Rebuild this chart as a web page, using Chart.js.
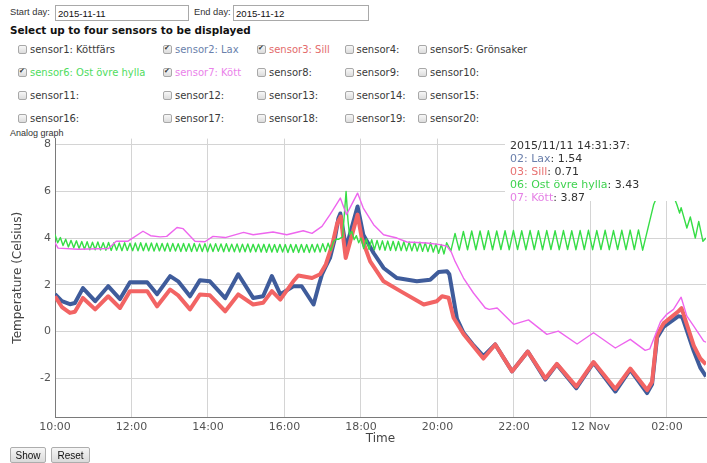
<!DOCTYPE html>
<html>
<head>
<meta charset="utf-8">
<script src="https://cdn.jsdelivr.net/npm/chart.js@4.4.1/dist/chart.umd.min.js"></script>
<style>
  body { margin: 0; width: 707px; height: 463px; overflow: hidden; position: relative; background: #fff;
         font-family: 'DejaVu Sans', Verdana, sans-serif; color: #222; }
  .abs { position: absolute; white-space: nowrap; }
  .small { font-family: 'Liberation Sans', Arial, sans-serif; font-size: 9.3px; color: #333; }
  input.day { position: absolute; height: 16px; box-sizing: border-box; border: 1px solid #a9a9a9; padding: 0 2px;
              font-family: 'Liberation Sans', Arial, sans-serif; font-size: 9.6px; color: #111; }
  .heading { font-weight: bold; font-size: 10.4px; color: #111; }
  .cb { position: absolute; display: flex; align-items: center; height: 12px; font-size: 10px; color: #3a3a3a; white-space: nowrap; }
  .cb input { appearance: none; -webkit-appearance: none; width: 9px; height: 9px; margin: 0 3px 0 0; box-sizing: border-box;
              border: 1px solid #a8a8a8; border-radius: 2px; background: linear-gradient(#f7f7f7, #dcdcdc); position: relative; }
  .cb input:checked::after { content: '\2714'; position: absolute; left: 0px; top: -2px; font-size: 7px; color: #333; }
  #wrap { position: absolute; left: 0; top: 128px; width: 707px; height: 320px; }
  #hover { position: absolute; left: 505px; top: 134px; width: 202px; height: 67px; background: #fff;
           font-size: 11px; line-height: 13px; color: #333; padding: 5px 0 0 5px; box-sizing: border-box; }
  button { position: absolute; top: 447px; height: 16px; padding: 0; border: 1px solid #adadad; border-radius: 2px;
           background: linear-gradient(#f6f6f6, #dadada); font-family: 'Liberation Sans', Arial, sans-serif; font-size: 10px; color: #111; }
</style>
</head>
<body>

<span class="abs small" style="left:10px;top:7px">Start day:</span>
<input class="day" style="left:55px;top:5px;width:134px" value="2015-11-11">
<span class="abs small" style="left:194px;top:7px">End day:</span>
<input class="day" style="left:233px;top:5px;width:136px" value="2015-11-12">
<div class="abs heading" style="left:10px;top:24px">Select up to four sensors to be displayed</div>

<div id="sensors"></div>

<span class="abs small" style="left:10px;top:128px;font-size:9px">Analog graph</span>

<div id="wrap"><canvas id="graph"></canvas></div>

<div id="hover">
  <div>2015/11/11 14:31:37:</div>
  <div><span style="color:#6a7fab">02: Lax</span>: 1.54</div>
  <div><span style="color:#e87272">03: Sill</span>: 0.71</div>
  <div><span style="color:#3fd24f">06: Ost övre hylla</span>: 3.43</div>
  <div><span style="color:#e581e5">07: Kött</span>: 3.87</div>
</div>

<button style="left:10px;width:36px">Show</button>
<button style="left:51px;width:39px">Reset</button>

<script>
// sensor checkboxes
const sensorNames = ['Köttfärs', 'Lax', 'Sill', '', 'Grönsaker', 'Ost övre hylla', 'Kött', '', '', '',
                     '', '', '', '', '', '', '', '', '', ''];
const sensorChecked = [2, 3, 6, 7];
const sensorColors = { 2: '#6a7fab', 3: '#e36b6b', 6: '#4fdc5e', 7: '#ea82ea' };
const colX = [18, 163, 257, 344.5, 418];
const rowY = [43, 66, 89, 112];

const box = document.getElementById('sensors');
sensorNames.forEach((name, i) => {
  const n = i + 1;
  const el = document.createElement('label');
  el.className = 'cb';
  el.style.left = colX[i % 5] + 'px';
  el.style.top = rowY[Math.floor(i / 5)] + 'px';
  const on = sensorChecked.includes(n);
  el.innerHTML = '<input type="checkbox"' + (on ? ' checked' : '') + '><span>sensor' + n + ': ' + name + '</span>';
  if (on) el.style.color = sensorColors[n];
  box.appendChild(el);
});

// 02: Lax
const laxHours = [10.00, 10.18, 10.39, 10.52, 10.73, 11.05, 11.39, 11.70, 11.96, 12.41, 12.67, 13.01, 13.22, 13.53,
  13.79, 14.05, 14.45, 14.79, 15.18, 15.44, 15.67, 15.89, 16.23, 16.45, 16.76, 16.90, 16.98, 17.06, 17.19, 17.32,
  17.41, 17.46, 17.61, 17.91, 18.06, 18.33, 18.59, 18.94, 19.46, 19.81, 20.03, 20.25, 20.31, 20.51, 20.68, 20.95,
  21.20, 21.51, 21.95, 22.36, 22.82, 23.12, 23.63, 24.08, 24.65, 25.04, 25.48, 25.61, 25.74, 25.91, 26.30, 26.40,
  26.70, 26.87, 27.02];
const laxTemps = [1.60, 1.30, 1.17, 1.22, 1.86, 1.30, 1.94, 1.39, 2.11, 2.11, 1.60, 2.37, 2.15, 1.51,
  2.20, 2.15, 1.43, 2.45, 1.44, 1.51, 2.37, 1.59, 1.94, 1.94, 1.16, 2.00, 2.44, 2.72, 3.15, 4.00,
  4.85, 5.05, 3.57, 5.35, 4.14, 3.36, 2.72, 2.29, 2.15, 2.22, 2.55, 2.58, 2.45, 0.55, -0.05, -0.60,
  -1.05, -0.55, -1.70, -0.85, -2.05, -1.40, -2.42, -1.33, -2.56, -1.63, -2.63, -2.25, -0.26, 0.20, 0.66, 0.62,
  -0.83, -1.54, -1.92];

// 03: Sill
const sillHours = [10.00, 10.18, 10.39, 10.52, 10.73, 11.05, 11.39, 11.70, 11.96, 12.41, 12.67, 13.01, 13.22, 13.53,
  13.79, 14.05, 14.45, 14.79, 15.18, 15.44, 15.67, 15.89, 16.23, 16.36, 16.72, 16.93, 17.08, 17.25, 17.38, 17.47,
  17.60, 17.91, 18.02, 18.24, 18.59, 19.03, 19.64, 19.98, 20.12, 20.29, 20.42, 20.68, 20.95, 21.20, 21.51, 21.95,
  22.36, 22.82, 23.12, 23.63, 24.08, 24.65, 25.04, 25.48, 25.61, 25.74, 25.91, 26.30, 26.38, 26.70, 26.87, 27.02];
const sillTemps = [1.51, 1.05, 0.80, 0.85, 1.44, 0.95, 1.51, 1.01, 1.73, 1.73, 1.08, 1.80, 1.55, 0.95,
  1.59, 1.55, 0.87, 1.59, 1.16, 1.23, 1.73, 1.37, 2.15, 2.40, 2.29, 2.45, 2.87, 3.72, 4.64, 4.92,
  3.15, 5.00, 4.00, 3.00, 2.15, 1.73, 1.16, 1.30, 1.51, 1.45, 0.59, -0.10, -0.65, -1.15, -0.55, -1.70,
  -0.85, -2.00, -1.38, -2.35, -1.30, -2.45, -1.58, -2.50, -2.15, -0.15, 0.35, 0.87, 1.00, -0.60, -1.15, -1.40];

// 06: Ost övre hylla (regular samples, then the spike, then the night cycle)
const ostDayStart = 10.00, ostDayStep = 0.07;
const ostDayTemps = [
  4.15, 3.80, 4.02, 3.68, 3.95, 3.62, 3.90, 3.58, 3.88, 3.55,
  3.85, 3.52, 3.84, 3.50, 3.82, 3.50, 3.83, 3.49, 3.80, 3.48,
  3.81, 3.47, 3.80, 3.48, 3.79, 3.46, 3.80, 3.47, 3.78, 3.46,
  3.79, 3.45, 3.80, 3.46, 3.78, 3.45, 3.79, 3.44, 3.78, 3.45,
  3.77, 3.44, 3.78, 3.43, 3.77, 3.44, 3.76, 3.42, 3.77, 3.43,
  3.76, 3.42, 3.77, 3.43, 3.75, 3.42, 3.76, 3.41, 3.75, 3.42,
  3.76, 3.43, 3.75, 3.41, 3.76, 3.42, 3.74, 3.41, 3.75, 3.40,
  3.74, 3.41, 3.75, 3.40, 3.73, 3.41, 3.74, 3.40, 3.73, 3.39,
  3.74, 3.40, 3.72, 3.39, 3.73, 3.40, 3.72, 3.38, 3.73, 3.39,
  3.72, 3.38, 3.73, 3.39, 3.72, 3.38, 3.73, 3.40, 3.74, 3.40,
  3.76, 3.42, 3.78, 3.46, 3.85, 3.95];
const ostSpikeHours = [17.42, 17.52, 17.61, 17.66, 17.70, 17.76, 17.82, 17.88, 17.94];
const ostSpikeTemps = [3.95, 4.05, 5.99, 4.75, 4.14, 4.29, 3.93, 4.10, 3.80];
const ostEveStart = 18.00, ostEveStep = 0.07;
const ostEveTemps = [
  4.00, 3.55, 3.96, 3.52, 3.93, 3.50, 3.90, 3.50, 3.88, 3.48,
  3.87, 3.47, 3.86, 3.46, 3.85, 3.46, 3.84, 3.45, 3.83, 3.45,
  3.82, 3.44, 3.82, 3.43, 3.80, 3.42, 3.80, 3.40, 3.75, 3.35,
  3.72, 3.32, 3.80];
const ostNightStart = 20.35, ostNightStep = 0.109;
const ostNightTemps = [
  3.45, 4.20, 3.48, 4.28, 3.50, 4.30, 3.50, 4.30, 3.51, 4.31,
  3.50, 4.30, 3.51, 4.31, 3.50, 4.32, 3.51, 4.31, 3.50, 4.32,
  3.51, 4.31, 3.50, 4.32, 3.51, 4.31, 3.50, 4.32, 3.51, 4.31,
  3.50, 4.32, 3.51, 4.33, 3.50, 4.32, 3.51, 4.33, 3.50, 4.32,
  3.51, 4.33, 3.50, 4.34, 3.51, 4.35, 3.48];
const ostTailHours = [25.50, 25.65, 25.85, 26.05, 26.26, 26.33, 26.37, 26.52, 26.61, 26.74, 26.83, 26.94, 27.02];
const ostTailTemps = [4.40, 5.42, 6.20, 6.30, 5.42, 5.07, 5.30, 4.43, 4.90, 4.00, 4.71, 3.86, 4.00];

// 07: Kött
const kottHours = [10.00, 10.08, 10.60, 11.40, 11.60, 11.90, 12.30, 12.50, 12.75, 12.92, 13.19, 13.35, 13.66, 13.92,
  14.13, 14.45, 14.93, 15.18, 15.70, 16.06, 16.49, 16.72, 16.98, 17.19, 17.46, 17.62, 17.91, 18.06, 18.33, 18.59,
  18.94, 19.20, 19.72, 20.07, 20.25, 20.36, 20.46, 20.59, 20.68, 20.94, 21.25, 21.35, 21.56, 21.99, 22.38, 22.86,
  23.16, 23.65, 24.08, 24.65, 25.04, 25.43, 25.55, 25.83, 26.00, 26.17, 26.37, 26.52, 26.70, 26.96, 27.02];
const kottTemps = [3.80, 3.57, 3.52, 3.55, 3.86, 3.86, 4.29, 4.10, 4.05, 4.07, 4.45, 4.40, 3.86, 3.84,
  4.07, 4.02, 4.24, 4.14, 4.26, 4.14, 4.31, 4.20, 4.50, 5.00, 5.71, 5.00, 5.92, 5.28, 4.57, 4.14,
  4.00, 3.83, 3.79, 3.72, 3.65, 3.40, 3.00, 2.58, 2.29, 1.65, 1.01, 0.95, 1.01, 0.31, 0.50, -0.12,
  0.02, -0.53, -0.05, -0.70, -0.33, -0.80, -0.74, 0.42, 0.75, 0.95, 1.47, 0.66, 0.23, -0.41, -0.45];

// x axis: hours counted from 2015-11-11 00:00
const xMin = 10, xMax = 27.02;
const yMin = -3.65, yMax = 8.25;

const pairs = (hours, temps) => hours.map((h, i) => ({ x: h, y: temps[i] }));
const regular = (start, step, temps) => temps.map((t, i) => ({ x: start + i * step, y: t }));

const ostData = [].concat(
  regular(ostDayStart, ostDayStep, ostDayTemps),
  pairs(ostSpikeHours, ostSpikeTemps),
  regular(ostEveStart, ostEveStep, ostEveTemps),
  regular(ostNightStart, ostNightStep, ostNightTemps),
  pairs(ostTailHours, ostTailTemps)
);

const tickFont = { family: "'DejaVu Sans', Verdana, sans-serif", size: 11 };
const titleFont = { family: "'DejaVu Sans', Verdana, sans-serif", size: 12 };

new Chart(document.getElementById('graph'), {
  type: 'line',
  data: {
    datasets: [
      { label: '07: Kött', data: pairs(kottHours, kottTemps), borderColor: '#ee66ee', borderWidth: 1.4, order: 1 },
      { label: '06: Ost övre hylla', data: ostData, borderColor: '#36dd46', borderWidth: 1.4, order: 2 },
      { label: '03: Sill', data: pairs(sillHours, sillTemps), borderColor: '#f26464', borderWidth: 4, order: 3 },
      { label: '02: Lax', data: pairs(laxHours, laxTemps), borderColor: '#3f5c9b', borderWidth: 4, order: 4 }
    ]
  },
  options: {
    animation: false,
    responsive: true,
    maintainAspectRatio: false,
    layout: { padding: { top: 10, right: 1, left: 0, bottom: 0 } },
    elements: { point: { radius: 0 }, line: { tension: 0, borderJoinStyle: 'round' } },
    plugins: { legend: { display: false }, tooltip: { enabled: false } },
    scales: {
      x: {
        type: 'linear', min: xMin, max: xMax,
        grid: { color: '#d4d4d4', drawTicks: false },
        border: { color: '#7a7a7a' },
        ticks: {
          stepSize: 2, includeBounds: false, autoSkip: false, maxRotation: 0,
          padding: 4, color: '#545454', font: tickFont,
          callback: v => (v % 24 === 0 ? '12 Nov' : String(v % 24).padStart(2, '0') + ':00')
        },
        title: { display: true, text: 'Time', color: '#444', font: titleFont, padding: { top: 0, bottom: 2 } },
        afterFit: s => { s.height = 31; }
      },
      y: {
        min: yMin, max: yMax,
        grid: { color: '#d4d4d4', drawTicks: false },
        border: { color: '#7a7a7a' },
        ticks: { stepSize: 2, includeBounds: false, padding: 4, color: '#545454', font: tickFont },
        title: { display: true, text: 'Temperature (Celsius)', color: '#444', font: titleFont, padding: { top: 11, bottom: 0 } },
        afterFit: s => { s.width = 55; }
      }
    }
  }
});
</script>
</body>
</html>
